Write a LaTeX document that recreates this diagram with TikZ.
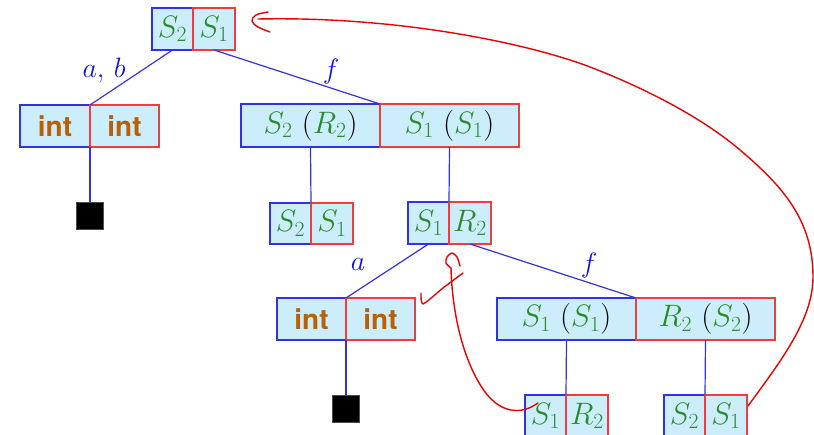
\RequirePackage{fix-cm}
\documentclass[tikz,border=0pt]{standalone}
\usepackage{fontspec}
\newfontfamily\heros{TeX Gyre Heros}

\definecolor{boxfill}{RGB}{204,238,252}
\definecolor{bline}{RGB}{50,50,225}
\definecolor{rline}{RGB}{240,60,60}
\definecolor{tgreen}{RGB}{40,140,40}
\definecolor{intc}{RGB}{185,95,5}
\definecolor{lblue}{RGB}{20,20,215}
\definecolor{pen}{RGB}{235,0,0}

% green type names and the brown base type
\newcommand\gs[1]{\textcolor{tgreen}{#1}}
\newcommand\tint{{\fontsize{28}{32}\selectfont\heros\bfseries\color{intc}int}}

% a two-part cell: name, x-left, x-divider, x-right, y-top, y-bottom, left text, right text
\newcommand\twobox[8]{%
  \pgfmathsetmacro\bxa{(#2+#3)/2}\pgfmathsetmacro\bxb{(#3+#4)/2}%
  \pgfmathsetmacro\bym{(#5+#6)/2}%
  \pgfmathsetmacro\bwa{#3-#2}\pgfmathsetmacro\bwb{#4-#3}\pgfmathsetmacro\bh{#6-#5}%
  \node[lpart, minimum width=\bwa pt, minimum height=\bh pt] (#1L) at (\bxa,\bym) {#7};
  \node[rpart, minimum width=\bwb pt, minimum height=\bh pt] (#1R) at (\bxb,\bym) {#8};
}

\begin{document}
\begin{tikzpicture}[x=1pt,y=-1pt,
  every node/.style={font=\fontsize{28}{32}\selectfont},
  cell/.style={fill=boxfill, line width=1.1pt, inner sep=0pt, outer sep=0pt,
    font=\fontsize{31}{34}\selectfont},
  lpart/.style={cell, draw=bline},
  rpart/.style={cell, draw=rline},
  leaf/.style={fill=black, draw=black!70, minimum size=27pt, inner sep=0pt, outer sep=0pt},
  edge/.style={draw=bline, line width=1.2pt},
  elabel/.style={text=lblue, inner sep=0pt},
  pencil/.style={draw=pen, line width=1.4pt, line cap=round, line join=round}]
\useasboundingbox (0,0) rectangle (814,434);

% cells
\twobox{root}{152}{193}{235}{8}{50}{$\gs{S_2}$}{$\gs{S_1}$}
\twobox{inta}{20}{90}{159}{105}{147}{\tint}{\tint}
\twobox{fun}{241}{380}{519}{104}{147}{$\gs{S_2}$~$(\gs{R_2})$}{$\gs{S_1}$~$(\gs{S_1})$}
\twobox{ma}{270}{311}{353}{203}{244}{$\gs{S_2}$}{$\gs{S_1}$}
\twobox{mb}{408}{449}{491}{202}{244}{$\gs{S_1}$}{$\gs{R_2}$}
\twobox{intb}{277}{346}{415}{298}{340}{\tint}{\tint}
\twobox{funb}{497}{636}{775}{298}{340}{$\gs{S_1}$~$(\gs{S_1})$}{$\gs{R_2}$~$(\gs{S_2})$}
\twobox{ba}{525}{566}{608}{395}{437}{$\gs{S_1}$}{$\gs{R_2}$}
\twobox{bb}{664}{705}{747}{395}{437}{$\gs{S_2}$}{$\gs{S_1}$}

\node[leaf] (sqa) at (90,215.5) {};
\node[leaf] (sqb) at (346,409) {};

% edges
\draw[edge] (rootL.south) -- (intaL.north east);
\draw[edge] (rootR.south) -- (funL.north east);
\draw[edge] (intaL.south east) -- (sqa.north);
\draw[edge] (funL.south) -- (maL.north east);
\draw[edge] (funR.south) -- (mbL.north east);
\draw[edge] (mbL.south) -- (intbL.north east);
\draw[edge] (mbR.south) -- (funbL.north east);
\draw[edge] (intbL.south east) -- (sqb.north);
\draw[edge] (funbL.south) -- (baL.north east);
\draw[edge] (funbR.south) -- (bbL.north east);

% edge labels
\node[elabel] (lab) at (104,70) {$a,\,b$};
\node[elabel] (lf) at (331,71) {$f$};
\node[elabel] (la) at (358,264) {$a$};
\node[elabel] (lfb) at (589,265) {$f$};

% hand-drawn annotations: long loop back to the root
\draw[pencil] (748,406) .. controls (780,362) and (813,320) .. (813,277)
  .. controls (813,222) and (785,188) .. (740,150)
  .. controls (705,120) and (650,90) .. (590,67)
  .. controls (530,44) and (400,16) .. (258,19);
\draw[pencil] plot[smooth, tension=0.6] coordinates {(268,12) (256,15) (252,21) (258,27) (270,32)};
% loop back to the inner cell, with its tip and a tick
\draw[pencil] (538,403) .. controls (520,416) and (500,412) .. (485,392)
  .. controls (462,360) and (452,310) .. (451,268);
\draw[pencil] plot[smooth, tension=0.5] coordinates {(451,268) (446,263) (447,257) (452,253) (457,257) (460,266)};
\draw[pencil] plot[smooth, tension=0.4] coordinates {(421,293) (423,304) (443,288) (463,273)};
\end{tikzpicture}
\end{document}
